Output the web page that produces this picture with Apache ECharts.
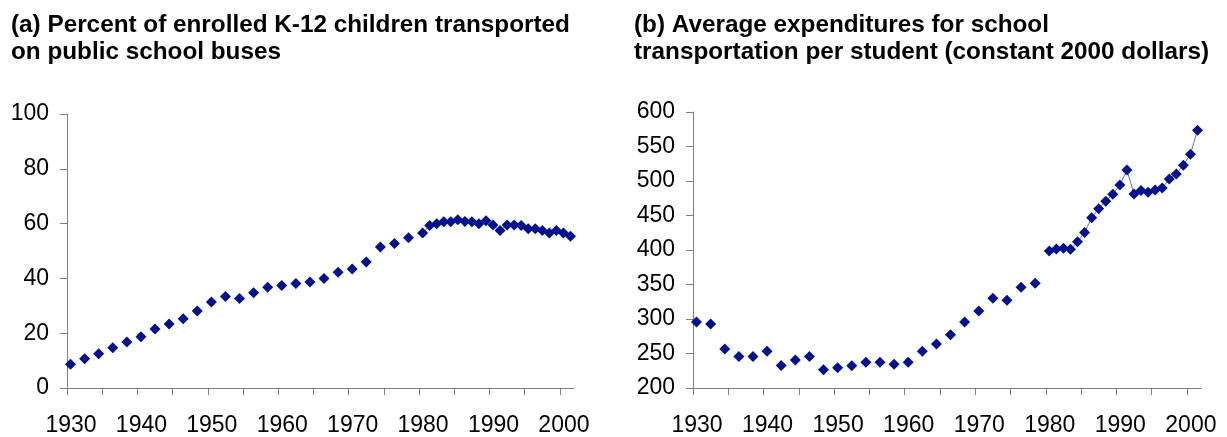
<!DOCTYPE html>
<html>
<head>
<meta charset="utf-8">
<script src="https://cdn.jsdelivr.net/npm/echarts@6/dist/echarts.min.js"></script>
<style>
  html, body { margin: 0; padding: 0; background: #fff; }
  #chart { width: 1227px; height: 437px; }
</style>
</head>
<body>
<div id="chart"></div>
<script>
// School years (plotted at mid-year)
var years = [
  1930.5, 1932.5, 1934.5, 1936.5, 1938.5, 1940.5, 1942.5, 1944.5, 1946.5, 1948.5,
  1950.5, 1952.5, 1954.5, 1956.5, 1958.5, 1960.5, 1962.5, 1964.5, 1966.5, 1968.5,
  1970.5, 1972.5, 1974.5, 1976.5, 1978.5,
  1980.5, 1981.5, 1982.5, 1983.5, 1984.5, 1985.5, 1986.5, 1987.5, 1988.5, 1989.5,
  1990.5, 1991.5, 1992.5, 1993.5, 1994.5, 1995.5, 1996.5, 1997.5, 1998.5, 1999.5,
  2000.5, 2001.5
];
// (a) Percent of enrolled K-12 children transported
var percentTransported = [
  8.7, 10.7, 12.5, 14.7, 16.8, 18.7, 21.5, 23.4, 25.3, 28.1,
  31.4, 33.4, 32.7, 34.8, 36.8, 37.4, 38.1, 38.7, 40.0, 42.2,
  43.4, 46.0, 51.5, 52.7, 54.8,
  56.6, 59.3, 59.9, 60.7, 60.7, 61.4, 60.8, 60.7, 59.9, 61.0,
  59.5, 57.5, 59.5, 59.5, 59.3, 58.1, 58.1, 57.5, 56.6, 57.5,
  56.6, 55.4
];
// (b) Average expenditure per student (constant 2000 dollars)
var expenditure = [
  295.7, 292.8, 256.4, 245.5, 245.5, 253.1, 232.6, 240.7, 245.5, 226.3,
  229.2, 232.1, 237.3, 237.3, 234.4, 237.3, 253.1, 263.6, 277.0, 295.7,
  311.5, 330.2, 327.3, 346.0, 351.7,
  398.5, 401.4, 402.4, 401.0, 412.0, 425.3, 446.9, 459.8, 470.8, 480.9,
  494.2, 515.8, 481.3, 486.1, 483.7, 487.1, 489.9, 502.9, 510.1, 523.0,
  538.7, 573.6
];
var xTickValues = [1930, 1935, 1940, 1945, 1950, 1955, 1960, 1965, 1970, 1975, 1980, 1985, 1990, 1995, 2000];
var xLabelValues = [1930, 1940, 1950, 1960, 1970, 1980, 1990, 2000];
var titleA = '(a) Percent of enrolled K-12 children transported\non public school buses';
var titleB = '(b) Average expenditures for school\ntransportation per student (constant 2000 dollars)';

// Build [x, y] pairs; years missing from the record (gaps > 1 year) break the line.
function pairs(xs, ys) {
  var out = [];
  for (var i = 0; i < xs.length; i++) {
    if (i > 0 && xs[i] - xs[i - 1] > 1) out.push([xs[i - 1] + 1, '-']);
    out.push([xs[i], ys[i]]);
  }
  return out;
}

var FONT = 'Arial, "Liberation Sans", sans-serif';
var axisColor = '#808080';
var markColor = '#00128e';

function xAxisDef(gridIndex) {
  return {
    type: 'value', gridIndex: gridIndex, min: 1930, max: 2002,
    splitLine: { show: false },
    axisLine: { lineStyle: { color: axisColor, width: 1 } },
    axisTick: { show: true, length: 7, lineStyle: { color: axisColor }, customValues: xTickValues },
    axisLabel: {
      customValues: xLabelValues, color: '#000', fontSize: 23, fontFamily: FONT,
      margin: 26, padding: [0, 0, 0, 8],
      formatter: function (v) { return String(v); }
    }
  };
}
function yAxisDef(gridIndex, min, max, interval) {
  return {
    type: 'value', gridIndex: gridIndex, min: min, max: max, interval: interval,
    splitLine: { show: false },
    axisLine: { show: true, lineStyle: { color: axisColor, width: 1 } },
    axisTick: { show: true, length: 7, lineStyle: { color: axisColor } },
    axisLabel: { color: '#000', fontSize: 23, fontFamily: FONT, margin: 18 }
  };
}
function seriesDef(idx, ys) {
  return {
    type: 'line', xAxisIndex: idx, yAxisIndex: idx,
    data: pairs(years, ys),
    connectNulls: false,
    symbol: 'diamond', symbolSize: 11,
    itemStyle: { color: markColor },
    lineStyle: { color: '#3a4aa8', width: 0.8 },
    animation: false
  };
}

var chart = echarts.init(document.getElementById('chart'), null, { renderer: 'canvas' });
chart.setOption({
  backgroundColor: '#fff',
  animation: false,
  title: [
    { text: titleA, left: 11, top: 12, padding: 0,
      textStyle: { fontSize: 24.3, fontWeight: 'bold', fontFamily: FONT, color: '#000', lineHeight: 27 } },
    { text: titleB, left: 634, top: 12, padding: 0,
      textStyle: { fontSize: 24.3, fontWeight: 'bold', fontFamily: FONT, color: '#000', lineHeight: 27 } }
  ],
  grid: [
    { left: 67, top: 114, width: 507, height: 277 },
    { left: 693, top: 112, width: 508, height: 279 }
  ],
  xAxis: [xAxisDef(0), xAxisDef(1)],
  yAxis: [yAxisDef(0, 0, 100, 20), yAxisDef(1, 200, 600, 50)],
  series: [seriesDef(0, percentTransported), seriesDef(1, expenditure)]
});
</script>
</body>
</html>
